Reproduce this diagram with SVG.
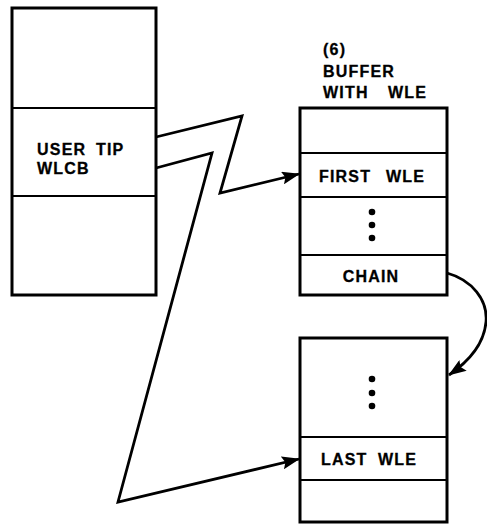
<svg xmlns="http://www.w3.org/2000/svg" width="487" height="525" viewBox="0 0 487 525">
<style>
.box{fill:#fff;stroke:#000;stroke-width:3}
.div{stroke:#000;stroke-width:2}
.t{font-family:"Liberation Sans",Arial,sans-serif;font-weight:bold;font-size:16px;letter-spacing:1.2px;fill:#000;stroke:#000;stroke-width:0.3}
.c{fill:none;stroke:#000;stroke-width:2.8;stroke-linejoin:miter;stroke-miterlimit:20}
.dot{fill:#000}
</style>
<defs>
<marker id="ah" viewBox="0 0 18 13" refX="17" refY="6.5" markerWidth="18" markerHeight="13" markerUnits="userSpaceOnUse" orient="auto">
<path d="M0,0 L18,6.5 L0,13 L3,6.5 Z" fill="#000"/>
</marker>
</defs>
<rect width="487" height="525" fill="#fff"/>
<g id="wlcb">
<rect class="box" x="12" y="8" width="144" height="287"/>
<line class="div" x1="12" y1="108" x2="156" y2="108"/>
<line class="div" x1="12" y1="196" x2="156" y2="196"/>
<text class="t" x="37" y="155">USER<tspan x="96">TIP</tspan></text>
<text class="t" x="37" y="174">WLCB</text>
</g>
<g id="buffer-label">
<text class="t" x="323" y="55">(6)</text>
<text class="t" x="323" y="77">BUFFER</text>
<text class="t" x="323" y="98">WITH<tspan x="388">WLE</tspan></text>
</g>
<g id="buffer">
<rect class="box" x="300" y="108" width="147" height="187"/>
<line class="div" x1="300" y1="153" x2="447" y2="153"/>
<line class="div" x1="300" y1="197" x2="447" y2="197"/>
<line class="div" x1="300" y1="255" x2="447" y2="255"/>
<text class="t" x="319" y="182">FIRST<tspan x="386">WLE</tspan></text>
<circle class="dot" cx="372" cy="212" r="3.3"/>
<circle class="dot" cx="372" cy="225" r="3.3"/>
<circle class="dot" cx="372" cy="238" r="3.3"/>
<text class="t" x="371" y="282" text-anchor="middle">CHAIN</text>
</g>
<g id="buffer2">
<rect class="box" x="300" y="338" width="147" height="184"/>
<line class="div" x1="300" y1="437" x2="447" y2="437"/>
<line class="div" x1="300" y1="480" x2="447" y2="480"/>
<circle class="dot" cx="372" cy="379" r="3.3"/>
<circle class="dot" cx="372" cy="393" r="3.3"/>
<circle class="dot" cx="372" cy="406" r="3.3"/>
<text class="t" x="321" y="465">LAST<tspan x="378">WLE</tspan></text>
</g>
<g id="connectors">
<polyline class="c" points="156,137 242,116 220,193 299,174" marker-end="url(#ah)"/>
<polyline class="c" points="156,168 212,153 118,502 299,459" marker-end="url(#ah)"/>
<path class="c" d="M447,273 C472,280 488,300 486,322 C484,345 468,362 449,375" marker-end="url(#ah)"/>
</g>
</svg>
